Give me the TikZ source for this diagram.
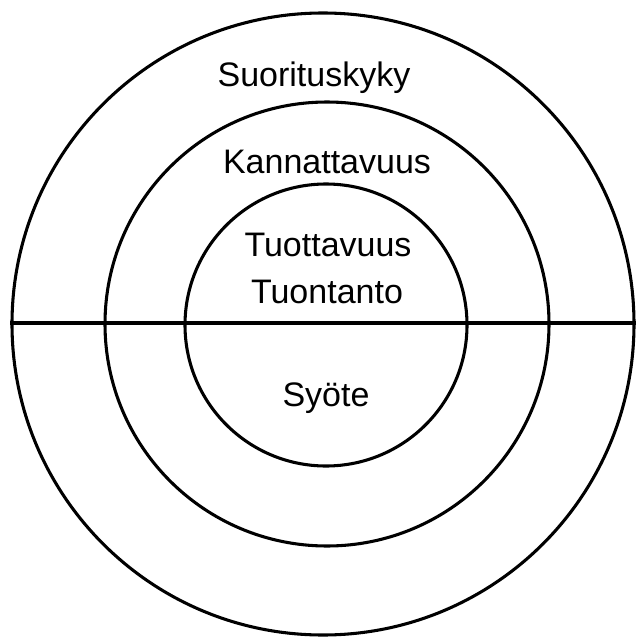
\documentclass[tikz,border=0pt]{standalone}
\usepackage{fontspec}
\setmainfont{Liberation Sans}
\usepackage{tikz}
\usetikzlibrary{positioning}
\tikzset{
  ring/.style={
    circle, draw=black, line width=2.3pt, inner sep=0pt
  },
  lbl/.style={
    font=\fontsize{25.5}{30}\selectfont, align=center, inner sep=0pt
  },
  axis/.style={line width=2.3pt}
}
\begin{document}
\begin{tikzpicture}[x=0.75pt, y=-0.75pt]

\useasboundingbox (0,0) rectangle (636,642);

% Rings
\node[ring, minimum size=622*0.75pt] (outer)  at (323,324) {};
\node[ring, minimum size=444*0.75pt] (middle) at (327,324) {};
\node[ring, minimum size=282*0.75pt] (inner)  at (326,325) {};

% Labels
\node[lbl] (perf)   at (314,78)  {Suorituskyky};
\node[lbl] (profit) at (327,162) {Kannattavuus};
\node[lbl] (prod)   at (328,245) {Tuottavuus};
\node[lbl] (output) at (327,292) {Tuontanto};
\node[lbl] (input)  at (326,398) {Syöte};

% Dividing line
\coordinate (west) at (10,323);
\coordinate (east) at (636,323);
\draw[axis] (west) -- (east);

\end{tikzpicture}
\end{document}
